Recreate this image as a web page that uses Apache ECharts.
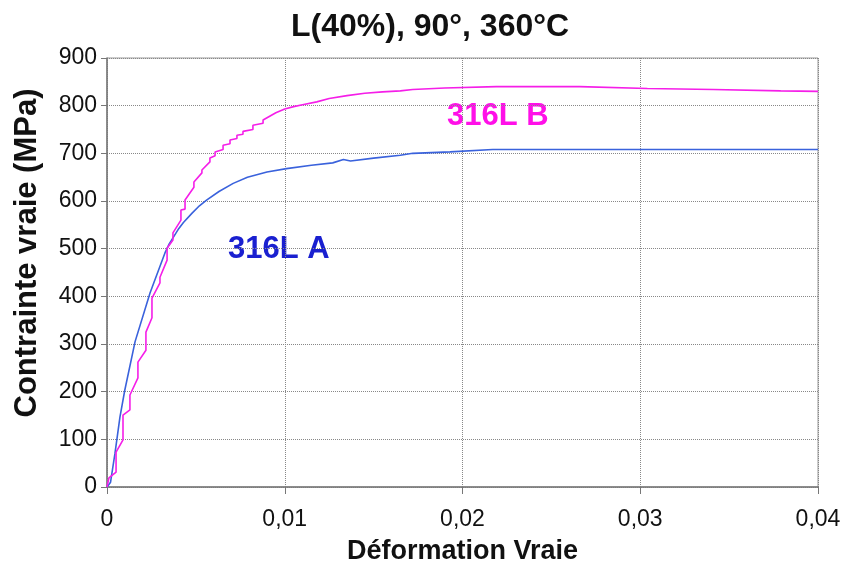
<!DOCTYPE html>
<html>
<head>
    <meta charset="utf-8">
    <title>L(40%), 90°, 360°C</title>
    <style>
        html, body { margin: 0; padding: 0; background: #fff; }
        #chartBox { width: 846px; height: 567px; }
    </style>
</head>
<body>
    <div id="chartBox"></div>
    <script src="https://cdn.jsdelivr.net/npm/echarts@6/dist/echarts.min.js"></script>
    <script>
        // axes
        var xTicks = [0, 0.01, 0.02, 0.03, 0.04];
        var yTicks = [0, 100, 200, 300, 400, 500, 600, 700, 800, 900];

        // 316L A (courbe lisse)
        var strainA = [0, 0.0002, 0.00045, 0.00073, 0.001, 0.00158, 0.00242, 0.00326, 0.0035, 0.004,
            0.0043, 0.0048, 0.0052, 0.0056, 0.0063, 0.0071, 0.0079, 0.009, 0.0101, 0.0115, 0.0127,
            0.0133, 0.0137, 0.015, 0.0165, 0.0172, 0.0193, 0.0217, 0.025, 0.03, 0.035, 0.04];
        var stressA = [0, 10, 71, 147, 203, 305, 407, 491, 510, 540,
            555, 575, 590, 602, 620, 637, 650, 661, 668, 675, 680,
            687, 684, 690, 696, 700, 703, 708, 708, 708, 708, 708];

        // 316L B (marches au debut)
        var strainB = [0, 0.00011, 0.00011, 0.00051, 0.00051, 0.0009, 0.0009, 0.00129, 0.00129,
            0.00174, 0.00174, 0.00219, 0.00219, 0.00253, 0.00253, 0.00298, 0.00298, 0.00338, 0.00338,
            0.00371, 0.00371, 0.00416, 0.00416, 0.00439, 0.00439, 0.00489, 0.00489, 0.00534, 0.00534,
            0.00579, 0.00579, 0.00608, 0.00608, 0.00653, 0.00653, 0.00692, 0.00692, 0.00731, 0.00731,
            0.00765, 0.00765, 0.00821, 0.00821, 0.00878, 0.00878,
            0.0095, 0.01, 0.0105, 0.011, 0.0118, 0.0125, 0.0135, 0.0145, 0.0155, 0.0165, 0.0172,
            0.019, 0.0219, 0.0266, 0.0304, 0.0341, 0.0379, 0.04];
        var stressB = [0, 0, 19, 31, 73, 99, 151, 162, 193,
            229, 262, 287, 325, 355, 396, 428, 440, 476, 501,
            518, 533, 560, 581, 583, 602, 629, 640, 659, 665,
            682, 690, 695, 703, 708, 717, 720, 728, 731, 738,
            740, 746, 750, 759, 763, 770,
            785, 793, 798, 802, 808, 815, 821, 826, 829, 831, 834,
            837, 840, 840, 836, 834, 831, 830];

        function pairs(xs, ys) {
            var res = [];
            for (var i = 0; i < xs.length; i++) {
                res.push([xs[i], ys[i]]);
            }
            return res;
        }

        var fontName = 'Liberation Sans';
        var myChart = echarts.init(document.getElementById('chartBox'));

        var option = {
            animation: false,
            textStyle: { fontFamily: fontName },
            title: {
                text: 'L(40%), 90°, 360°C',
                left: 286,
                top: 6,
                textStyle: { fontSize: 32, fontWeight: 'bold', color: '#111', fontFamily: fontName }
            },
            grid: {
                left: 107,
                right: 28,
                top: 58,
                bottom: 80,
                outerBoundsMode: 'none',
                show: true,
                borderColor: '#999',
                borderWidth: 1
            },
            xAxis: {
                type: 'value',
                min: xTicks[0],
                max: xTicks[xTicks.length - 1],
                interval: 0.01,
                name: 'Déformation Vraie',
                nameLocation: 'middle',
                nameGap: 51,
                nameTextStyle: { fontSize: 27, fontWeight: 'bold', color: '#111' },
                axisLine: { lineStyle: { color: '#777', width: 1.5 } },
                axisTick: { show: true, inside: false, length: 7, lineStyle: { color: '#777' } },
                axisLabel: {
                    fontSize: 23,
                    color: '#111',
                    margin: 21,
                    formatter: function (v) {
                        return v === 0 ? '0' : v.toFixed(2).replace('.', ',');
                    }
                },
                splitLine: { show: true, lineStyle: { type: 'dotted', color: '#888', width: 1 } }
            },
            yAxis: {
                type: 'value',
                min: yTicks[0],
                max: yTicks[yTicks.length - 1],
                interval: 100,
                axisLine: { show: true, lineStyle: { color: '#777', width: 1.5 } },
                axisTick: { show: true, inside: false, length: 6, lineStyle: { color: '#777' } },
                axisLabel: { fontSize: 23, color: '#111', margin: 10 },
                splitLine: { show: true, lineStyle: { type: 'dotted', color: '#888', width: 1 } }
            },
            graphic: [
                {
                    // titre de l'axe y, decale vers le haut comme dans l'original
                    type: 'text',
                    x: 27,
                    y: 253,
                    rotation: Math.PI / 2,
                    style: {
                        text: 'Contrainte vraie (MPa)',
                        fill: '#111',
                        fontSize: 31,
                        fontWeight: 'bold',
                        fontFamily: fontName,
                        textAlign: 'center',
                        textVerticalAlign: 'middle'
                    }
                },
                {
                    type: 'text',
                    left: 447,
                    top: 101,
                    style: { text: '316L B', fill: '#ff10e8', fontSize: 31, fontWeight: 'bold', fontFamily: fontName }
                },
                {
                    type: 'text',
                    left: 228,
                    top: 234,
                    style: { text: '316L A', fill: '#1a20d0', fontSize: 31, fontWeight: 'bold', fontFamily: fontName }
                }
            ],
            series: [
                {
                    name: '316L A',
                    type: 'line',
                    showSymbol: false,
                    lineStyle: { color: '#3a62dc', width: 1.6 },
                    data: pairs(strainA, stressA)
                },
                {
                    name: '316L B',
                    type: 'line',
                    showSymbol: false,
                    lineStyle: { color: '#f51ee8', width: 1.6 },
                    data: pairs(strainB, stressB)
                }
            ]
        };

        myChart.setOption(option);
    </script>
</body>
</html>
